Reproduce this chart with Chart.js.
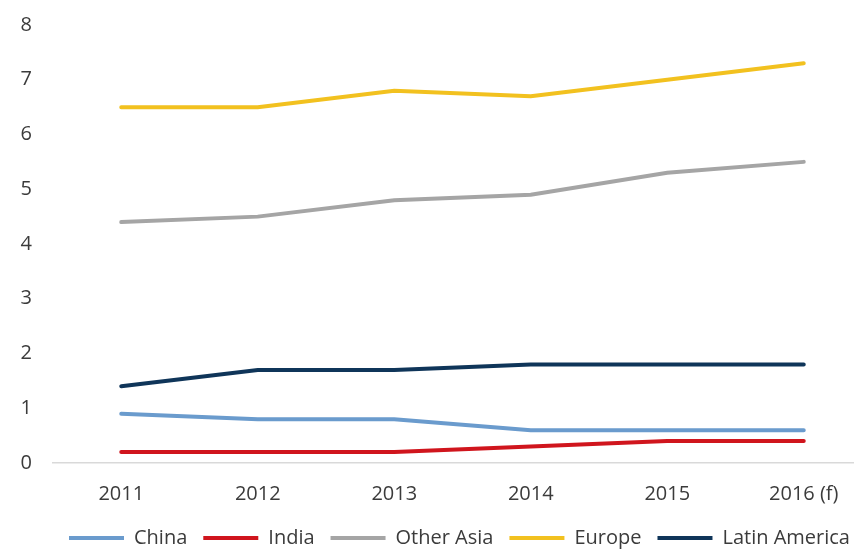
<!DOCTYPE html>
<html>
<head>
<meta charset="utf-8">
<script src="https://cdn.jsdelivr.net/npm/chart.js@4/dist/chart.umd.min.js"></script>
<style>
  html, body { margin: 0; padding: 0; background: #fff; }
  #wrap { width: 854px; height: 555px; overflow: hidden; }
</style>
</head>
<body>
<div id="wrap"><canvas id="chart" width="880" height="555"></canvas></div>
<script>
// Years on the x axis, last one is a forecast
const years = ['2011', '2012', '2013', '2014', '2015', '2016 (f)'];

const china = [0.9, 0.8, 0.8, 0.6, 0.6, 0.6];
const india = [0.2, 0.2, 0.2, 0.3, 0.4, 0.4];
const otherAsia = [4.4, 4.5, 4.8, 4.9, 5.3, 5.5];
const europe = [6.5, 6.5, 6.8, 6.7, 7.0, 7.3];
const latinAmerica = [1.4, 1.7, 1.7, 1.8, 1.8, 1.8];

const textColor = '#3b3b3b';
const font = { family: '"Open Sans", sans-serif', size: 20 };

function series(label, values, color) {
    return {
        label: label,
        data: values,
        borderColor: color,
        backgroundColor: color,
        borderWidth: 4,
        borderCapStyle: 'round',
        pointRadius: 0,
        pointStyle: 'line',
        tension: 0
    };
}

const ctx = document.getElementById('chart').getContext('2d');
const chart = new Chart(ctx, {
    type: 'line',
    data: {
        labels: years,
        datasets: [
            series('China', china, '#6a9bcd'),
            series('India', india, '#d0151d'),
            series('Other Asia', otherAsia, '#a5a5a5'),
            series('Europe', europe, '#f2c11f'),
            series('Latin America', latinAmerica, '#0f3559')
        ]
    },
    options: {
        responsive: false,
        animation: false,
        devicePixelRatio: 1,
        layout: { padding: { top: 25, right: 8, bottom: -3, left: 0 } },
        plugins: {
            tooltip: { enabled: false },
            legend: {
                position: 'bottom',
                align: 'start',
                fullSize: false,
                labels: {
                    usePointStyle: true,
                    pointStyleWidth: 55,
                    padding: 16,
                    color: textColor,
                    font: font
                }
            }
        },
        scales: {
            x: {
                offset: true,
                grid: { display: false, drawTicks: false },
                border: { display: true, color: '#d9d9d9', width: 1.5 },
                ticks: { color: textColor, font: font, padding: 19, maxRotation: 0 },
                afterFit: (scale) => { scale.height = 49; }
            },
            y: {
                min: 0,
                max: 8,
                grid: { display: false, drawTicks: false },
                border: { display: false },
                ticks: { stepSize: 1, color: textColor, font: font, padding: 21 },
                afterFit: (scale) => {
                    // keep the label gap from pushing the plot area down
                    scale.width = 53;
                    scale.paddingTop = 0;
                    scale.paddingBottom = 0;
                }
            }
        }
    }
});
</script>
</body>
</html>
